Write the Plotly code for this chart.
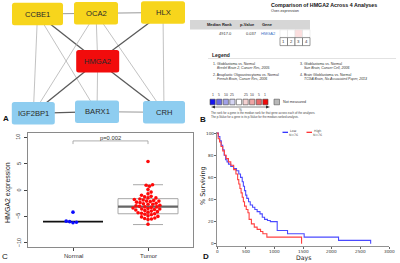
import math
import plotly.graph_objects as go

# ---------------- DATA ----------------
# Panel A: interaction network
node_names = ["CCBE1", "OCA2", "HLX", "HMGA2", "IGF2BP1", "BARX1", "CRH"]
node_groups = ["top", "top", "top", "hub", "bottom", "bottom", "bottom"]
edge_from = ["CCBE1", "OCA2", "CCBE1", "CCBE1", "CCBE1", "OCA2", "OCA2", "OCA2",
             "HLX", "HLX", "HMGA2", "HMGA2", "HMGA2", "IGF2BP1", "BARX1"]
edge_to = ["OCA2", "HLX", "IGF2BP1", "BARX1", "HMGA2", "IGF2BP1", "HMGA2", "CRH",
           "HMGA2", "CRH", "IGF2BP1", "BARX1", "CRH", "BARX1", "CRH"]
edge_strength = [1, 1, 0, 0, 2, 0, 0, 0, 2, 0, 2, 0, 2, 2, 1]

# Panel B: Oncomine comparison
b_title = "Comparison of HMGA2 Across 4 Analyses"
b_subtitle = "Over-expression"
b_headers = ["Median Rank", "p-Value", "Gene"]
b_row = ["4917.0", "0.037", "HMGA2"]
b_cell_flags = [0, 0, 1, 0]
b_cell_labels = ["1", "2", "3", "4"]
b_legend_titles = ["1. Glioblastoma vs. Normal",
                   "2. Anaplastic Oligoastrocytoma vs. Normal",
                   "3. Glioblastoma vs. Normal",
                   "4. Brain Glioblastoma vs. Normal"]
b_legend_refs = ["Bredel Brain 2, Cancer Res, 2005",
                 "French Brain, Cancer Res, 2006",
                 "Sun Brain, Cancer Cell, 2006",
                 "TCGA Brain, No Associated Paper, 2013"]
b_scale_labels = ["1", "5", "10", "25", "", "25", "10", "5", "1"]
b_notes = ["The rank for a gene is the median rank for that gene across each of the analyses.",
           "The p-Value for a gene is its p-Value for the median-ranked analysis."]

# Panel C: expression box plot
c_categories = ["Normal", "Tumor"]
normal_values = [-4.2, -5.9, -6.0, -6.1, -6.2]
tumor_values = [5.4, 1.0, 0.9, 0.7, 0.1, -0.4, -0.7, -1.0, -1.2, -1.3, -1.5, -1.5,
                -1.7, -1.8, -1.9, -2.0, -2.1, -2.1, -2.2, -2.3, -2.4, -2.5, -2.6,
                -2.7, -2.7, -2.9, -3.0, -3.1, -3.2, -3.2, -3.3, -3.4, -3.5, -3.6,
                -3.6, -3.7, -3.8, -3.9, -4.0, -4.1, -4.2, -4.3, -4.4, -4.5, -4.6,
                -4.7, -4.9, -5.0, -5.1, -5.3, -5.4, -5.5, -5.6, -6.5]
normal_stats = [-6.0, -6.0, -6.0, -6.0, -6.0]        # lower, q1, median, q3, upper
tumor_stats = [-6.55, -4.5, -3.15, -1.64, 1.0]
p_label = "p=0.002"
c_yticks = [-10, -5, 0, 5, 10]

# Panel D: Kaplan-Meier
low_days = [0, 25, 50, 75, 100, 125, 150, 175, 200, 240, 290, 340, 380, 410, 440,
            460, 480, 500, 520, 550, 580, 620, 660, 700, 750, 790, 830, 880, 930,
            1050, 1230, 1520, 2120, 2680]
low_surv = [100, 97, 93, 89, 85, 80, 76, 74, 72, 70, 68, 66, 63, 60, 56, 52, 48,
            44, 41, 38, 35, 33, 31, 29, 27, 24, 22, 21, 20, 12, 9, 6, 3, 0]
high_days = [0, 20, 45, 70, 100, 130, 160, 200, 240, 290, 330, 360, 380, 400, 420,
             440, 460, 480, 510, 540, 560, 600, 650, 700, 760, 800, 870, 1475]
high_surv = [100, 95, 92, 88, 84, 80, 77, 74, 71, 67, 63, 58, 54, 50, 46, 42, 38,
             34, 31, 28, 22, 18, 15, 13, 11, 9, 6, 0]
d_groups = [("Low", "N=76"), ("High", "N=76")]
d_xticks = [0, 500, 1000, 1500, 2000, 2500, 3000]
d_yticks = [0, 20, 40, 60, 80, 100]

# ---------------- LAYOUT / STYLE ----------------
W, H = 400, 263
NODE_POS = {"CCBE1": (37.5, 14.0, 51), "OCA2": (96, 13.3, 44), "HLX": (163, 12.5, 44),
            "HMGA2": (97.7, 61.2, 43), "IGF2BP1": (33.3, 113.3, 43),
            "BARX1": (97, 111.7, 44), "CRH": (164, 112.3, 42)}
NODE_H = 22.5
GROUP_COL = {"top": "#f7d51c", "hub": "#f20c0c", "bottom": "#8ecdf0"}
SCALE_COLORS = ["#1414f0", "#6a6ae6", "#a0a0e8", "#d4d4f2", "#ffffff",
                "#f4d2d2", "#eea4a4", "#e86868", "#f00a0a"]
ARIAL = "Liberation Sans, Arial"
DEJA = "DejaVu Sans, Verdana"

fig = go.Figure()
annotations = []
shapes = []


def T(x, y, text, size, color="#222", xanchor="left", yanchor="middle",
      family=ARIAL, angle=0, xref="x4", yref="y4"):
    annotations.append(dict(x=x, y=y, xref=xref, yref=yref, text=text, showarrow=False,
                            xanchor=xanchor, yanchor=yanchor, textangle=angle,
                            font=dict(size=size, color=color, family=family),
                            borderpad=0))


def R(x0, y0, x1, y1, fill, line="rgba(0,0,0,0)", lw=0.6):
    shapes.append(dict(type="rect", xref="x4", yref="y4", x0=x0, y0=y0, x1=x1, y1=y1,
                       fillcolor=fill, line=dict(color=line, width=lw), layer="above"))


def L(x0, y0, x1, y1, color, lw=0.8):
    shapes.append(dict(type="line", xref="x4", yref="y4", x0=x0, y0=y0, x1=x1, y1=y1,
                       line=dict(color=color, width=lw), layer="above"))


# ---------- Panel A ----------
for a, b, s in zip(edge_from, edge_to, edge_strength):
    (xa, ya, _), (xb, yb, _) = NODE_POS[a], NODE_POS[b]
    col = {0: "#a8a8a8", 1: "#999999", 2: "#5a5a5a"}[s]
    lw = {0: 0.7, 1: 1.0, 2: 1.3}[s]
    fig.add_trace(go.Scatter(x=[xa, xb], y=[ya, yb], mode="lines", xaxis="x3", yaxis="y3",
                             line=dict(color=col, width=lw), hoverinfo="skip"))
for name, grp in zip(node_names, node_groups):
    cx, cy, w = NODE_POS[name]
    x0, x1, y0, y1, r = cx - w / 2, cx + w / 2, cy - NODE_H / 2, cy + NODE_H / 2, 2.5
    path = (f"M {x0+r},{y0} L {x1-r},{y0} Q {x1},{y0} {x1},{y0+r} L {x1},{y1-r} "
            f"Q {x1},{y1} {x1-r},{y1} L {x0+r},{y1} Q {x0},{y1} {x0},{y1-r} "
            f"L {x0},{y0+r} Q {x0},{y0} {x0+r},{y0} Z")
    shapes.append(dict(type="path", xref="x3", yref="y3", path=path,
                       fillcolor=GROUP_COL[grp], line=dict(width=0), layer="above"))
    T(cx, cy, name, 7.6, "#2a2a2a", "center", xref="x3", yref="y3")
T(6, 118.5, "<b>A</b>", 8, "#111", "center")

# ---------- Panel B ----------
T(270, 4.5, "<b>" + b_title + "</b>", 5.3, "#111")
T(270, 11, b_subtitle, 3.8, "#333")
R(190, 20, 310, 29.5, "#d6d6d6")
for txt, xc in zip(b_headers, [219, 247.5, 267.5]):
    T(xc, 24.8, "<b>" + txt + "</b>", 4.0, "#222", "center")
T(233, 33.5, b_row[0], 4.0, "#333", "right")
T(257.5, 33.5, b_row[1], 4.0, "#333", "right")
T(260, 33.5, b_row[2], 4.0, "#3a6fc4", "left")
for i, (flag, lab) in enumerate(zip(b_cell_flags, b_cell_labels)):
    x0 = 280 + 7.5 * i
    R(x0, 29.8, x0 + 7.5, 37.3, "#fbdede" if flag else "#ffffff", "#dddddd", 0.5)
    R(x0, 37.6, x0 + 7.5, 45.6, "#ffffff", "#555555", 0.6)
    T(x0 + 3.75, 41.8, lab, 4.3, "#333", "center")
T(211, 54.5, "<b>Legend</b>", 5.0, "#222")
L(208, 58.5, 396, 58.5, "#cfcfcf", 0.6)
for i, (tt, rr) in enumerate(zip(b_legend_titles, b_legend_refs)):
    x0 = 212 if i < 2 else 299
    y0 = 63.5 if i % 2 == 0 else 74.8
    T(x0, y0, tt, 3.5, "#333")
    T(x0 + 4, y0 + 4.2, "<i>" + rr + "</i>", 3.5, "#333")
for i, (lab, col) in enumerate(zip(b_scale_labels, SCALE_COLORS)):
    x0 = 210 + 6.6 * i
    R(x0, 99.2, x0 + 5.2, 104.8, col, "#444", 0.6)
    if lab:
        T(x0 + 2.6, 95.2, lab, 3.4, "#333", "center")
R(274, 99.2, 279.5, 104.8, "#b8b8b8", "#555", 0.6)
T(281.5, 102, "Not measured", 3.7, "#333")
L(213, 107, 268, 107, "#333", 0.6)
shapes.append(dict(type="path", xref="x4", yref="y4", path="M 211,107 L 215,105.6 L 215,108.4 Z",
                   fillcolor="#333", line=dict(width=0)))
shapes.append(dict(type="path", xref="x4", yref="y4", path="M 270,107 L 266,105.6 L 266,108.4 Z",
                   fillcolor="#333", line=dict(width=0)))
T(240, 110, "%", 3.2, "#333", "center")
T(210, 113.3, b_notes[0], 2.9, "#444")
T(210, 116.5, b_notes[1], 2.9, "#444")
T(203, 119.5, "<b>B</b>", 8, "#111", "center")


# ---------- Panel C ----------
def swarm(values, center, d_px=3.5, sx=75.0, sy=5.3):
    order = sorted(range(len(values)), key=lambda i: values[i])
    placed, xs = [], [0.0] * len(values)
    for i in order:
        y = values[i] * sy
        cands = [0.0]
        for (qx, qy) in placed:
            dy = abs(qy - y)
            if dy < d_px:
                dx = math.sqrt(d_px ** 2 - dy ** 2)
                cands += [qx + dx, qx - dx]
        cands.sort(key=abs)
        chosen = cands[-1]
        for c in cands:
            if all((c - qx) ** 2 + (y - qy) ** 2 >= d_px ** 2 - 1e-6 for qx, qy in placed):
                chosen = c
                break
        placed.append((chosen, y))
        xs[i] = center + chosen / sx
    return xs


for pos, stats, col in [(1, normal_stats, "#111111"), (2, tumor_stats, "#a8a8a8")]:
    fig.add_trace(go.Box(x=[pos], lowerfence=[stats[0]], q1=[stats[1]], median=[stats[2]],
                         q3=[stats[3]], upperfence=[stats[4]], width=0.8, whiskerwidth=0.5,
                         fillcolor="rgba(0,0,0,0)", line=dict(color=col, width=1.6 if pos == 1 else 1.0),
                         boxpoints=False, xaxis="x", yaxis="y", hoverinfo="skip"))
fig.add_trace(go.Scatter(x=[1.6, 2.4], y=[tumor_stats[2]] * 2, mode="lines",
                         line=dict(color="#666666", width=2.2), xaxis="x", yaxis="y"))
fig.add_trace(go.Scatter(x=swarm(normal_values, 1), y=normal_values, mode="markers",
                         marker=dict(color="#0a0aff", size=3.6), xaxis="x", yaxis="y"))
fig.add_trace(go.Scatter(x=swarm(tumor_values, 2), y=tumor_values, mode="markers",
                         marker=dict(color="#ff0a0a", size=3.6), xaxis="x", yaxis="y"))
fig.add_trace(go.Scatter(x=[1, 1, 2, 2], y=[8.7, 9.3, 9.3, 8.7], mode="lines",
                         line=dict(color="#999", width=0.8), xaxis="x", yaxis="y"))
T(1.5, 9.1, p_label, 5.8, "#333", "center", "bottom", xref="x", yref="y")
for k, cat in enumerate(c_categories):
    T(k + 1, 255.5, cat, 6, "#333", "center", xref="x", yref="y4")
for v in c_yticks:
    T(18.5, v, str(v).replace("-", "\u2212"), 5.5, "#333", "center", xref="x4", yref="y",
      angle=-90)
T(8, 193, "HMGA2 expression", 7, "#222", "center", angle=-90)
T(5, 256, "C", 8, "#111", "center")

# ---------- Panel D ----------
fig.add_trace(go.Scatter(x=low_days, y=low_surv, mode="lines", line_shape="hv",
                         line=dict(color="#4a4aff", width=1.1), xaxis="x2", yaxis="y2"))
fig.add_trace(go.Scatter(x=high_days, y=high_surv, mode="lines", line_shape="hv",
                         line=dict(color="#ff4040", width=1.1), xaxis="x2", yaxis="y2"))
for (g, n), col, x0 in zip(d_groups, ["#2020ff", "#ff2020"], [282.5, 306.5]):
    L(x0, 132.3, x0 + 5.5, 132.3, col, 1.2)
    T(x0 + 11, 130.6, g, 3.2, "#444", "center", family=DEJA)
    T(x0 + 11, 134.8, n, 3.2, "#444", "center", family=DEJA)
for v in d_xticks:
    T(v, 251.8, str(v), 4.2, "#333", "center", family=DEJA, xref="x2", yref="y4")
for v in d_yticks:
    T(214.5, v, str(v), 4.2, "#333", "right", family=DEJA, xref="x4", yref="y2")
T(203, 186, "% Surviving", 6.5, "#222", "center", family=DEJA, angle=-90)
T(303, 257.5, "Days", 6.2, "#222", "center", family=DEJA)
T(206, 256, "<b>D</b>", 8, "#111", "center")


# ---------- axes ----------
def dom_x(a, b):
    return [a / W, b / W]


def dom_y(top, bottom):
    return [1 - bottom / H, 1 - top / H]


fig.update_layout(
    width=W, height=H, margin=dict(l=0, r=0, t=0, b=0), showlegend=False,
    paper_bgcolor="white", plot_bgcolor="rgba(0,0,0,0)", hovermode=False,
    xaxis=dict(domain=dom_x(28, 193), range=[0.4, 2.6], tickvals=[1, 2], showticklabels=False,
               ticks="outside", ticklen=3, tickcolor="#444", showline=True, mirror=True,
               linecolor="#8a8a8a", linewidth=1, showgrid=False, zeroline=False, anchor="y"),
    yaxis=dict(domain=dom_y(133, 247), range=[-10.8, 10.8], tickvals=c_yticks,
               showticklabels=False,
               ticks="outside", ticklen=3, tickcolor="#444", showline=True, mirror=True,
               linecolor="#8a8a8a", linewidth=1, showgrid=False, zeroline=False, anchor="x"),
    xaxis2=dict(domain=dom_x(217, 389), range=[0, 3000], tickvals=d_xticks, showticklabels=False,
                ticks="outside", ticklen=2, tickcolor="#666", showline=True, linecolor="#777",
                linewidth=0.8, showgrid=False, zeroline=False, anchor="y2"),
    yaxis2=dict(domain=dom_y(131.5, 246.5), range=[-2.5, 101.5], tickvals=d_yticks,
                showticklabels=False,
                ticks="outside", ticklen=2, tickcolor="#666", showline=True, linecolor="#777",
                linewidth=0.8, showgrid=False, zeroline=False, anchor="x2"),
    xaxis3=dict(domain=dom_x(0, 195), range=[0, 195], visible=False, anchor="y3"),
    yaxis3=dict(domain=dom_y(0, 127), range=[127, 0], visible=False, anchor="x3"),
    xaxis4=dict(domain=[0, 1], range=[0, W], visible=False, anchor="y4"),
    yaxis4=dict(domain=[0, 1], range=[H, 0], visible=False, anchor="x4"),
    annotations=annotations, shapes=shapes,
)
fig.write_html("out.html", config={"displayModeBar": False, "staticPlot": True},
               post_script="document.body.style.margin='0';document.body.style.overflow='hidden';")
